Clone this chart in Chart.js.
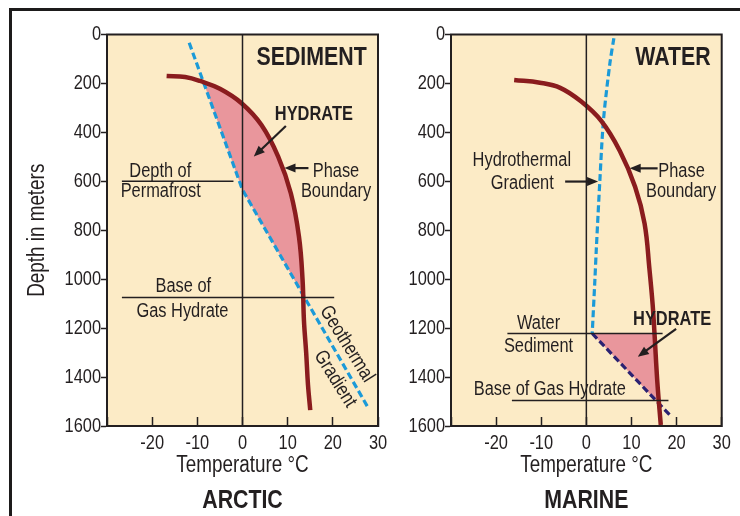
<!DOCTYPE html>
<html lang="en">
<head>
<meta charset="UTF-8">
<title>Gas hydrate stability - Arctic and Marine</title>
<style>
  body { margin: 0; background: #fff; }
  #frame { position: absolute; left: 9px; top: 8px; width: 760px; height: 540px;
           border-top: 3px solid #1d1b1b; border-left: 3px solid #1d1b1b; }
  #arctic { position: absolute; left: 0; top: 0; }
  #marine { position: absolute; left: 390px; top: 0; }
</style>
</head>
<body>
<div id="frame"></div>
<canvas id="arctic" width="390" height="516"></canvas>
<canvas id="marine" width="350" height="516"></canvas>

<script src="https://cdn.jsdelivr.net/npm/chart.js"></script>
<script>
// values: [temperature °C, depth m]
const tempTicks = [-30, -20, -10, 0, 10, 20, 30];
const depthTicks = [0, 200, 400, 600, 800, 1000, 1200, 1400, 1600];

// Arctic panel
const arcticPhase = [[-16.8, 170], [-12.7, 174], [-9.4, 190], [-5.0, 222], [-0.2, 281], [4.2, 370],
  [7.9, 499], [10.7, 649], [12.5, 826], [13.3, 1003], [13.6, 1167], [14.1, 1301], [14.5, 1432],
  [15, 1535]];
const arcticGeotherm = [[-11.8, 34], [0, 635], [27.9, 1528]];
const arcticPermafrost = [[-26.7, 600], [-2, 600]];
const arcticBase = [[-26.7, 1075], [20.3, 1075]];
const arcticHydrateTop = 196;
const arcticHydrateBase = 1075;

// Marine panel
const marinePhase = [[-16, 186], [-10.3, 197], [-5.8, 218], [-1.2, 273], [3.3, 353], [7.4, 475],
  [10.8, 622], [12.9, 772], [14.0, 962], [14.7, 1105], [15.1, 1220], [15.75, 1425], [16.5, 1596]];
const marineHydrotherm = [[6.1, 15], [5.2, 120], [3.8, 349], [3.0, 595], [2.2, 880], [1.9, 1000],
  [1.3, 1222]];
const marineSedGeotherm = [[1.3, 1222], [18.5, 1555]];
const marineSeafloor = [[-17.5, 1222], [16.9, 1222]];
const marineBase = [[-16.5, 1496], [18.2, 1496]];
const marineHydrateTop = 1222;
const marineHydrateBase = 1496;

const INK = '#231f20';
const PAPER = '#fcebc6';
const PHASE = '#8a1c1e';
const BLUE = '#1b9ad8';
const NAVY = '#2b2272';
const PINK = '#e9969c';
const FONT = '"Liberation Sans", Arial, sans-serif';
const NARROW = 0.82; // the figure is set in a condensed sans

const pts = arr => arr.map(([x, y]) => ({ x, y }));

// temperature of a curve at a given depth (linear between read points)
function tempAt(curve, depth) {
  for (let i = 0; i < curve.length - 1; i++) {
    const [x0, y0] = curve[i], [x1, y1] = curve[i + 1];
    if (depth >= y0 && depth <= y1) return x0 + (x1 - x0) * (depth - y0) / (y1 - y0);
  }
  return curve[curve.length - 1][0];
}

// closed outline of the hydrate zone between the phase boundary and a gradient
function hydrateZone(boundary, gradient, top, base) {
  const inside = p => p[1] > top && p[1] < base;
  return [
    [tempAt(boundary, top), top],
    ...boundary.filter(inside),
    [tempAt(boundary, base), base],
    [tempAt(gradient, base), base],
    ...gradient.filter(inside).reverse(),
    [tempAt(gradient, top), top]
  ];
}

// squeeze all text horizontally around its anchor
const condensed = {
  id: 'condensed',
  beforeInit(chart) {
    const ctx = chart.ctx;
    const fill = ctx.fillText.bind(ctx);
    ctx.fillText = function (text, x, y, maxWidth) {
      this.save();
      this.translate(x, y);
      this.scale(NARROW, 1);
      if (maxWidth !== undefined) fill(text, 0, 0, maxWidth / NARROW);
      else fill(text, 0, 0);
      this.restore();
    };
  }
};

const plotFrame = {
  id: 'plotFrame',
  beforeDraw(chart) {
    const { ctx, chartArea: a } = chart;
    ctx.save();
    ctx.fillStyle = PAPER;
    ctx.fillRect(a.left, a.top, a.width, a.height);
    ctx.restore();
  },
  afterDatasetsDraw(chart) {
    const { ctx, chartArea: a } = chart;
    ctx.save();
    ctx.strokeStyle = INK;
    ctx.lineWidth = 2;
    ctx.strokeRect(a.left, a.top, a.width, a.height);
    ctx.restore();
  }
};

const notes = {
  id: 'notes',
  afterDatasetsDraw(chart, args, opts) {
    const { ctx, scales: { x, y } } = chart;
    ctx.save();
    ctx.fillStyle = INK;
    ctx.strokeStyle = INK;
    (opts.labels || []).forEach(l => {
      ctx.font = (l.bold ? 'bold ' : '') + l.size + 'px ' + FONT;
      ctx.textAlign = 'center';
      ctx.textBaseline = l.rotate ? 'middle' : 'alphabetic';
      ctx.save();
      ctx.translate(x.getPixelForValue(l.at[0]), y.getPixelForValue(l.at[1]));
      if (l.rotate) ctx.rotate(l.rotate * Math.PI / 180);
      ctx.fillText(l.text, 0, 0);
      ctx.restore();
    });
    (opts.arrows || []).forEach(a => {
      const x0 = x.getPixelForValue(a.from[0]), y0 = y.getPixelForValue(a.from[1]);
      const x1 = x.getPixelForValue(a.to[0]), y1 = y.getPixelForValue(a.to[1]);
      const c = Math.cos(Math.atan2(y1 - y0, x1 - x0)), s = Math.sin(Math.atan2(y1 - y0, x1 - x0));
      ctx.lineWidth = 2.2;
      ctx.beginPath();
      ctx.moveTo(x0, y0);
      ctx.lineTo(x1 - 6 * c, y1 - 6 * s);
      ctx.stroke();
      ctx.beginPath();
      ctx.moveTo(x1, y1);
      ctx.lineTo(x1 - 11 * c + 4.5 * s, y1 - 11 * s - 4.5 * c);
      ctx.lineTo(x1 - 11 * c - 4.5 * s, y1 - 11 * s + 4.5 * c);
      ctx.closePath();
      ctx.fill();
    });
    ctx.restore();
  }
};

function thinLine(data) {
  return { data: pts(data), showLine: true, borderColor: INK, borderWidth: 1.5, pointRadius: 0, fill: false };
}

function makeChart(id, opt) {
  return new Chart(document.getElementById(id), {
    type: 'scatter',
    data: {
      datasets: [
        thinLine([[0, 0], [0, 1600]]),
        ...opt.rules.map(thinLine),
        { data: pts(opt.phase), showLine: true, borderColor: PHASE, borderWidth: 4.5,
          tension: 0.4, pointRadius: 0, fill: false, borderCapStyle: 'butt' },
        ...opt.gradients.map(g => ({ data: pts(g.data), showLine: true, borderColor: g.color,
          borderWidth: 3.2, borderDash: [7, 3.5], tension: g.tension || 0, pointRadius: 0, fill: false })),
        { data: pts(opt.zone), showLine: true, borderWidth: 0, borderColor: 'rgba(0,0,0,0)',
          backgroundColor: PINK, pointRadius: 0, fill: 'shape' }
      ]
    },
    options: {
      responsive: false,
      animation: false,
      events: [],
      layout: { padding: { left: 0, right: opt.padRight, top: 34.5, bottom: 0 } },
      scales: {
        x: {
          type: 'linear', min: -30, max: 30,
          afterBuildTicks: s => { s.ticks = tempTicks.map(v => ({ value: v })); },
          // fixed axis box; the end labels may hang over the plot edges
          afterFit: s => { s.height = 58.8; s.paddingLeft = 0; s.paddingRight = 0; },
          ticks: { color: INK, font: { family: FONT, size: 20 }, padding: 14, maxRotation: 0,
            autoSkip: false, callback: v => (v === -30 ? '' : String(v)) },
          grid: { drawOnChartArea: false, tickLength: -9, tickColor: INK, tickWidth: 1.5 },
          border: { color: INK, width: 2 },
          title: { display: true, text: 'Temperature °C', color: INK,
            font: { family: FONT, size: 23 }, padding: { top: 0, bottom: 5 } }
        },
        y: {
          type: 'linear', min: 0, max: 1600, reverse: true,
          afterBuildTicks: s => { s.ticks = depthTicks.map(v => ({ value: v })); },
          afterFit: s => { s.width = opt.yWidth; },
          ticks: { color: INK, font: { family: FONT, size: 20 }, padding: 0, autoSkip: false,
            callback: v => String(v) },
          grid: { drawOnChartArea: false, tickLength: 6, tickColor: INK, tickWidth: 1.5 },
          border: { color: INK, width: 2 },
          title: { display: !!opt.yTitle, text: opt.yTitle || '', color: INK,
            font: { family: FONT, size: 23 }, padding: { top: 24, bottom: 0 } }
        }
      },
      plugins: {
        legend: { display: false },
        tooltip: { enabled: false },
        // centred under the plot, not the whole canvas
        title: { display: true, position: 'bottom', fullSize: false, text: opt.title, color: INK,
          font: { family: FONT, size: 26, weight: 'bold' }, padding: 0 },
        notes: { labels: opt.labels, arrows: opt.arrows }
      }
    },
    plugins: [condensed, plotFrame, notes]
  });
}

makeChart('arctic', {
  title: 'ARCTIC',
  yTitle: 'Depth in meters',
  yWidth: 107,
  padRight: 12,
  phase: arcticPhase,
  gradients: [{ data: arcticGeotherm, color: BLUE }],
  rules: [arcticPermafrost, arcticBase],
  zone: hydrateZone(arcticPhase, arcticGeotherm, arcticHydrateTop, arcticHydrateBase),
  labels: [
    { text: 'SEDIMENT', at: [15.3, 125], size: 26, bold: true },
    { text: 'HYDRATE', at: [15.8, 349], size: 20, bold: true },
    { text: 'Depth of', at: [-18.2, 581], size: 20 },
    { text: 'Permafrost', at: [-18.1, 663], size: 20 },
    { text: 'Phase', at: [20.7, 581], size: 20 },
    { text: 'Boundary', at: [20.7, 665], size: 20 },
    { text: 'Base of', at: [-13.1, 1051], size: 20 },
    { text: 'Gas Hydrate', at: [-13.3, 1154], size: 20 },
    { text: 'Geothermal', at: [23.1, 1265], size: 20, rotate: 58 },
    { text: 'Gradient', at: [20.5, 1408], size: 20, rotate: 58 }
  ],
  arrows: [
    { from: [9.6, 374], to: [2.5, 499] },
    { from: [14.6, 546], to: [9.3, 546] }
  ]
});

makeChart('marine', {
  title: 'MARINE',
  yWidth: 61,
  padRight: 18.3,
  phase: marinePhase,
  gradients: [{ data: marineHydrotherm, color: BLUE, tension: 0.3 }, { data: marineSedGeotherm, color: NAVY }],
  rules: [marineSeafloor, marineBase],
  zone: hydrateZone(marinePhase, marineSedGeotherm, marineHydrateTop, marineHydrateBase),
  labels: [
    { text: 'WATER', at: [19.2, 125], size: 26, bold: true },
    { text: 'Hydrothermal', at: [-14.3, 539], size: 20 },
    { text: 'Gradient', at: [-14.2, 631], size: 20 },
    { text: 'Phase', at: [21.1, 581], size: 20 },
    { text: 'Boundary', at: [21.0, 665], size: 20 },
    { text: 'Water', at: [-10.6, 1203], size: 20 },
    { text: 'Sediment', at: [-10.6, 1297], size: 20 },
    { text: 'HYDRATE', at: [19.0, 1187], size: 20, bold: true },
    { text: 'Base of Gas Hydrate', at: [-8.1, 1475], size: 20 }
  ],
  arrows: [
    { from: [-4.7, 601], to: [2.6, 601] },
    { from: [15.8, 547], to: [9.6, 547] },
    { from: [19.9, 1203], to: [11.4, 1317] }
  ]
});
</script>
</body>
</html>
